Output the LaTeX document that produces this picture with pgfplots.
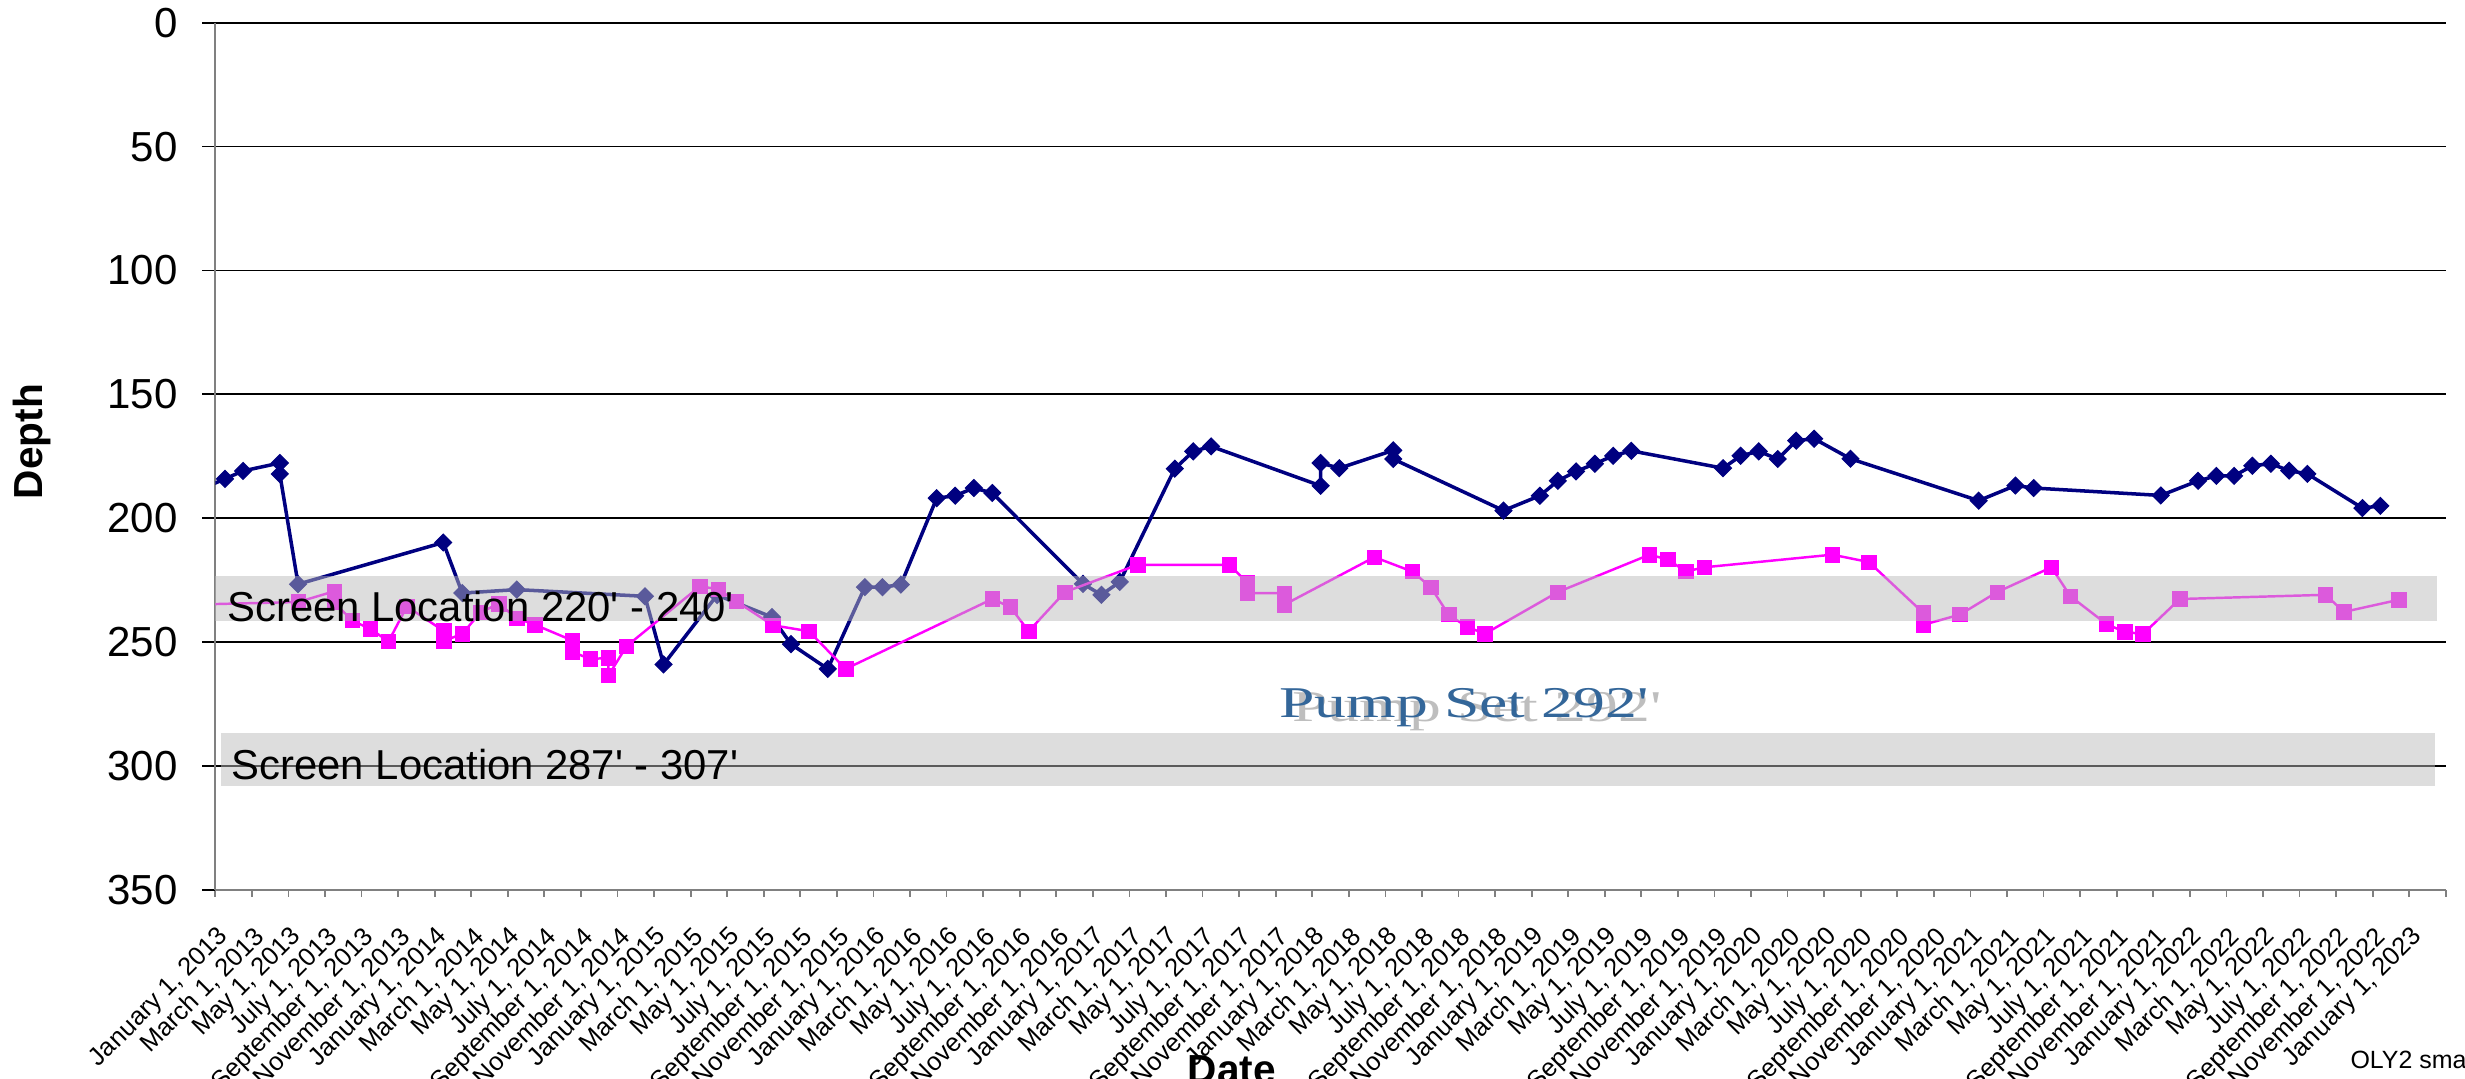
\documentclass[border=0pt]{standalone}
\usepackage{fontspec}
\setmainfont{Liberation Sans}
\newfontfamily\serifpump{Liberation Serif}
\usepackage{pgfplots}
\usepackage{pgfplotstable}
\pgfplotsset{compat=1.18}
\definecolor{navyc}{RGB}{0,0,128}
\definecolor{magc}{RGB}{255,0,255}
\definecolor{bandc}{RGB}{185,185,185}
\definecolor{pumpblue}{RGB}{51,102,153}
\definecolor{shadowc}{RGB}{190,190,190}
\newcommand{\ft}{\textquotesingle}

% m = months since January 1, 2013 ; d = depth
\pgfplotstableread{
m d
-1 189
0.53 184.1
1.52 180.9
3.53 177.7
3.53 182.1
4.53 226.6
12.47 209.8
13.51 230.2
16.49 228.8
23.5 231.5
24.52 259.0
27.45 231.0
30.45 239.9
31.49 250.8
33.5 260.8
35.53 227.8
36.49 227.8
37.5 226.8
39.46 191.9
40.47 190.9
41.49 187.8
42.5 189.8
47.46 226.5
48.47 230.9
49.47 225.7
52.48 180.0
53.49 173.0
54.47 171.0
60.46 186.9
60.46 177.7
61.48 179.8
64.43 172.6
64.43 176.1
70.46 196.9
72.45 190.9
73.43 184.9
74.43 181.1
75.46 178.0
76.46 174.8
77.45 172.8
82.47 179.8
83.43 174.8
84.42 173.0
85.46 176.1
86.47 168.7
87.45 167.9
89.44 176.0
96.45 192.9
98.46 186.8
99.46 187.8
106.41 190.8
108.45 184.9
109.45 182.9
110.42 182.9
111.42 178.8
112.43 178.0
113.43 180.8
114.43 182.1
117.44 195.9
118.42 195.0
}\navytab

\pgfplotstableread{
m d
-2 235
4.54 233.8
6.5 229.5
6.5 234
7.5 241.3
8.48 244.7
9.48 249.7
10.48 235.6
12.5 245.5
12.5 249.5
13.51 246.7
14.5 238
15.5 234.5
16.49 240.3
17.49 243.0
19.52 249.3
19.52 253.9
20.5 256.8
21.5 256.4
21.5 263.5
22.5 251.6
26.5 227.5
27.5 228.6
28.51 233.6
30.5 243.2
32.47 245.6
34.48 260.8
42.5 232.6
43.48 235.8
44.49 245.6
46.47 229.8
50.45 218.8
55.48 218.8
56.46 226.1
56.46 230.2
58.47 230.2
58.47 234.9
63.4 215.7
65.47 221.5
66.48 227.8
67.46 238.9
68.47 243.9
69.45 246.6
73.43 229.8
78.45 214.7
79.46 216.7
80.44 221.5
81.44 219.8
88.45 214.7
90.45 217.7
93.42 238.2
93.42 243.0
95.42 238.9
97.46 229.8
100.43 219.8
101.47 231.5
103.44 242.7
104.44 245.9
105.44 246.7
107.45 232.6
115.42 230.9
116.43 237.8
119.43 232.9
}\magtab

\begin{document}
\begin{tikzpicture}
\begin{scope}[overlay]
\begin{axis}[
  scale only axis,
  width=22.307cm, height=8.673cm,
  xmin=0, xmax=122, ymin=0, ymax=350,
  y dir=reverse,
  enlargelimits=false,
  clip mode=individual,
  axis x line*=bottom, axis y line*=left,
  x axis line style={gray, line width=0.5pt},
  y axis line style={gray, line width=0.65pt},
  tick align=outside,
  major tick length=0.13cm,
  ytick={0,50,...,350},
  xtick={0,2,...,122},
  xtick style={gray, line width=0.5pt, /pgfplots/major tick length=0.07cm},
  ytick style={black, line width=0.5pt},
  ymajorgrids=true,
  major grid style={black, line width=0.5pt},
  /pgf/number format/assume math mode=true,
  yticklabel style={anchor=east, inner sep=0pt, xshift=-0.24cm, font=\fontsize{11.95pt}{14pt}\selectfont},
  xticklabel style={xshift=0.09cm, yshift=-0.30cm, rotate=45, anchor=east, inner sep=0pt, font=\fontsize{7.25pt}{8.5pt}\selectfont},
  xticklabels={{January 1, 2013},{March 1, 2013},{May 1, 2013},{July 1, 2013},{September 1, 2013},{November 1, 2013},
  {January 1, 2014},{March 1, 2014},{May 1, 2014},{July 1, 2014},{September 1, 2014},{November 1, 2014},
  {January 1, 2015},{March 1, 2015},{May 1, 2015},{July 1, 2015},{September 1, 2015},{November 1, 2015},
  {January 1, 2016},{March 1, 2016},{May 1, 2016},{July 1, 2016},{September 1, 2016},{November 1, 2016},
  {January 1, 2017},{March 1, 2017},{May 1, 2017},{July 1, 2017},{September 1, 2017},{November 1, 2017},
  {January 1, 2018},{March 1, 2018},{May 1, 2018},{July 1, 2018},{September 1, 2018},{November 1, 2018},
  {January 1, 2019},{March 1, 2019},{May 1, 2019},{July 1, 2019},{September 1, 2019},{November 1, 2019},
  {January 1, 2020},{March 1, 2020},{May 1, 2020},{July 1, 2020},{September 1, 2020},{November 1, 2020},
  {January 1, 2021},{March 1, 2021},{May 1, 2021},{July 1, 2021},{September 1, 2021},{November 1, 2021},
  {January 1, 2022},{March 1, 2022},{May 1, 2022},{July 1, 2022},{September 1, 2022},{November 1, 2022},
  {January 1, 2023},{}},
]
\addplot[navyc, line width=1pt, mark=square*, mark size=1.7pt,
  mark options={rotate=45, fill=navyc, draw=navyc, line width=0.3pt}]
  table[x=m, y=d] {\navytab};
\addplot[magc, line width=0.7pt, mark=square*, mark size=2.05pt,
  mark options={fill=magc, draw=magc, line width=0.2pt}]
  table[x=m, y=d] {\magtab};

\fill[bandc, fill opacity=0.49] (axis cs:0,223.3) rectangle (axis cs:121.54,241.5);
\fill[bandc, fill opacity=0.49] (axis cs:0.3,286.6) rectangle (axis cs:121.4,307.9);

\node[anchor=base west, inner sep=0pt, font=\fontsize{11.9pt}{14pt}\selectfont]
  at (axis cs:0.62,241.6) {Screen Location 220\ft{} - 240\ft};
\node[anchor=base west, inner sep=0pt, font=\fontsize{11.9pt}{14pt}\selectfont]
  at (axis cs:0.86,305.5) {Screen Location 287\ft{} - 307\ft};

\node[anchor=base, inner sep=0pt, text=shadowc, xshift=0.13cm, yshift=-0.045cm]
  at (axis cs:68.3,280.4) {\scalebox{1.45}[1]{\serifpump\fontsize{12.5pt}{15pt}\selectfont Pump Set 292\ft}};
\node[anchor=base, inner sep=0pt, text=pumpblue]
  at (axis cs:68.3,280.4) {\scalebox{1.45}[1]{\serifpump\fontsize{12.5pt}{15pt}\selectfont Pump Set 292\ft}};

\node[rotate=90, inner sep=0pt, font=\bfseries\fontsize{11.55pt}{14pt}\selectfont]
  at (axis cs:-10.0,169.1) {Depth};
\node[anchor=north, inner sep=0pt, font=\bfseries\fontsize{11.55pt}{14pt}\selectfont]
  at (axis cs:55.6,416.4) {Date};
\node[anchor=base west, inner sep=0pt, font=\fontsize{7.1pt}{9pt}\selectfont]
  at (axis cs:116.75,422.1) {OLY2 small};

\coordinate (bbA) at (axis cs:-11.775,426.1);
\coordinate (bbB) at (axis cs:123.05,-9.157);
\end{axis}
\end{scope}
\path (bbA) rectangle (bbB);
\end{tikzpicture}
\end{document}
